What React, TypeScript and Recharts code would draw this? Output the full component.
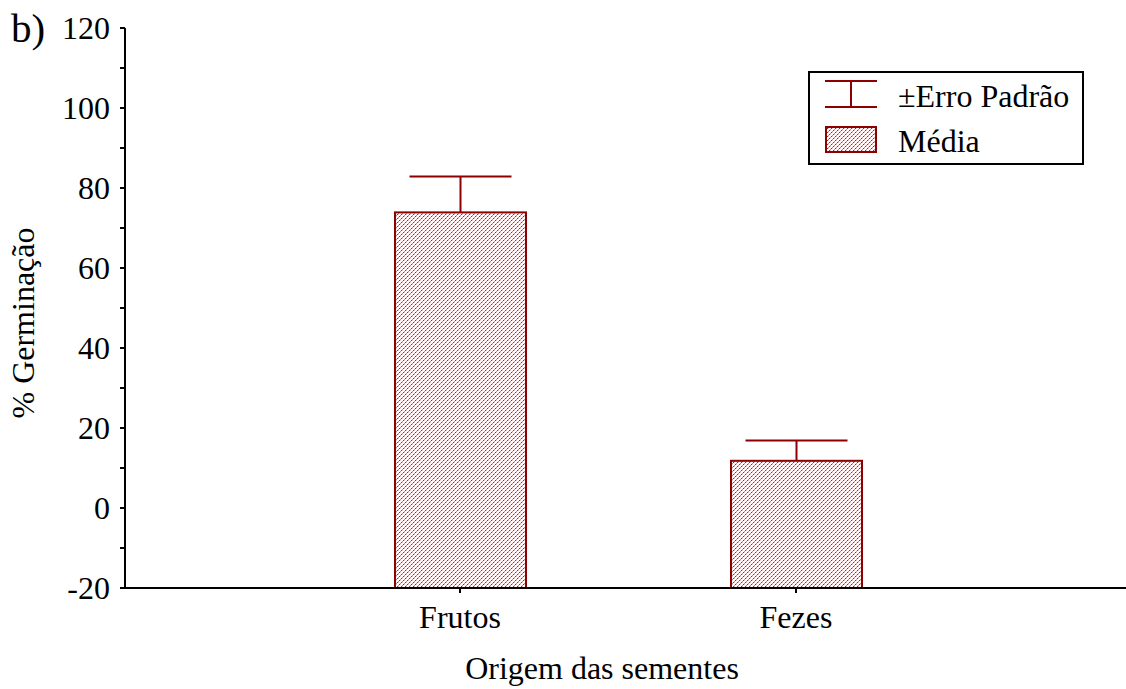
import { Bar, BarChart, Legend, XAxis, YAxis } from "recharts";

const CATEGORIES = ["Frutos", "Fezes"];
const MEANS = [73.9, 11.8];
const STD_ERRORS = [9.0, 5.1];
const Y_TICKS = [-20, -10, 0, 10, 20, 30, 40, 50, 60, 70, 80, 90, 100, 110, 120];
const LEGEND_LABELS = ["±Erro Padrão", "Média"];
const Y_MIN = -20;
const Y_MAX = 120;

const data = CATEGORIES.map((name, i) => ({
  name,
  range: [Y_MIN, MEANS[i]],
  mean: MEANS[i],
  se: STD_ERRORS[i],
}));

const RED = "#8b0000";
const FONT = "'Liberation Serif', 'Times New Roman', serif";
const FS = 32;

const PatternDefs = () => (
  <defs>
    <pattern id="dots" width={4} height={4} patternUnits="userSpaceOnUse">
      <rect width={4} height={4} fill="#ffffff" />
      <rect x={3} y={0} width={1} height={1} fill="#b82020" />
      <rect x={2} y={1} width={1} height={1} fill="#dc8080" />
      <rect x={1} y={2} width={1} height={1} fill="#b82020" />
      <rect x={0} y={3} width={1} height={1} fill="#dc8080" />
      <rect x={0} y={0} width={1} height={1} fill="#f2cccc" />
      <rect x={2} y={2} width={1} height={1} fill="#f2cccc" />
    </pattern>
  </defs>
);

// bar plus the upper whisker, sized from the bar's own pixel height
const BarWithError = (props: any) => {
  const { x, y, width, height, payload } = props;
  const pxPerUnit = height / (payload.mean - Y_MIN);
  const top = y - payload.se * pxPerUnit;
  const cx = x + width / 2;
  return (
    <g>
      <rect x={x + 1} y={y} width={width - 2} height={height} fill="url(#dots)" stroke={RED} strokeWidth={2} />
      <line x1={cx} y1={y} x2={cx} y2={top} stroke={RED} strokeWidth={2} />
      <line x1={cx - 51} y1={top} x2={cx + 51} y2={top} stroke={RED} strokeWidth={2} />
    </g>
  );
};

const renderLegend = () => (
  <div
    style={{
      border: "2px solid #000",
      width: 272,
      height: 90,
      background: "#fff",
      fontFamily: FONT,
      fontSize: FS,
      color: "#000",
      boxSizing: "content-box",
    }}
  >
    {LEGEND_LABELS.map((label, i) => (
      <div key={label} style={{ display: "flex", alignItems: "center", height: 45 }}>
        <svg width={88} height={45} style={{ flex: "none" }}>
          {i === 0 ? (
            <g stroke={RED} strokeWidth={2}>
              <line x1={15} y1={8} x2={67} y2={8} />
              <line x1={41} y1={8} x2={41} y2={34} />
              <line x1={15} y1={34} x2={67} y2={34} />
            </g>
          ) : (
            <rect x={16} y={9} width={50} height={25} fill="url(#dots)" stroke={RED} strokeWidth={2} />
          )}
        </svg>
        <span style={{ lineHeight: 1 }}>{label}</span>
      </div>
    ))}
  </div>
);

export default function App() {
  return (
    <div style={{ position: "absolute", left: 0, top: 0, background: "#fff" }}>
      <BarChart
        width={1126}
        height={689}
        data={data}
        margin={{ top: 28, right: 0, bottom: 0, left: 0 }}
        style={{ fontFamily: FONT }}
      >
        <PatternDefs />
        <XAxis
          dataKey="name"
          height={101}
          padding={{ left: 167, right: 162 }}
          axisLine={{ stroke: "#000", strokeWidth: 2 }}
          tickLine={{ stroke: "#000", strokeWidth: 2 }}
          tickSize={5}
          tickMargin={12}
          tick={{ fill: "#000", fontSize: FS, fontFamily: FONT }}
          label={{
            content: () => (
              <text x={602} y={679} textAnchor="middle" fontSize={FS} fontFamily={FONT} fill="#000">
                Origem das sementes
              </text>
            ),
          }}
        />
        <YAxis
          type="number"
          domain={[Y_MIN, Y_MAX]}
          ticks={Y_TICKS}
          interval={0}
          width={125}
          axisLine={{ stroke: "#000", strokeWidth: 2 }}
          tickLine={{ stroke: "#000", strokeWidth: 2 }}
          tickSize={5}
          tickMargin={10}
          tickFormatter={(v: number) => (v % 20 === 0 ? String(v) : "")}
          tick={{ fill: "#000", fontSize: FS, fontFamily: FONT }}
          label={{
            content: () => (
              <g fontFamily={FONT} fill="#000">
                <text x={11} y={42} fontSize={41}>b)</text>
                <text
                  x={34}
                  y={323}
                  fontSize={FS}
                  textAnchor="middle"
                  transform="rotate(-90 34 323)"
                >
                  % Germinação
                </text>
              </g>
            ),
          }}
        />
        <Bar dataKey="range" barSize={133} shape={BarWithError} isAnimationActive={false} />
        <Legend
          layout="vertical"
          align="center"
          verticalAlign="middle"
          content={renderLegend}
          wrapperStyle={{ left: 808, top: 71, width: 276, height: 94 }}
        />
      </BarChart>
    </div>
  );
}
